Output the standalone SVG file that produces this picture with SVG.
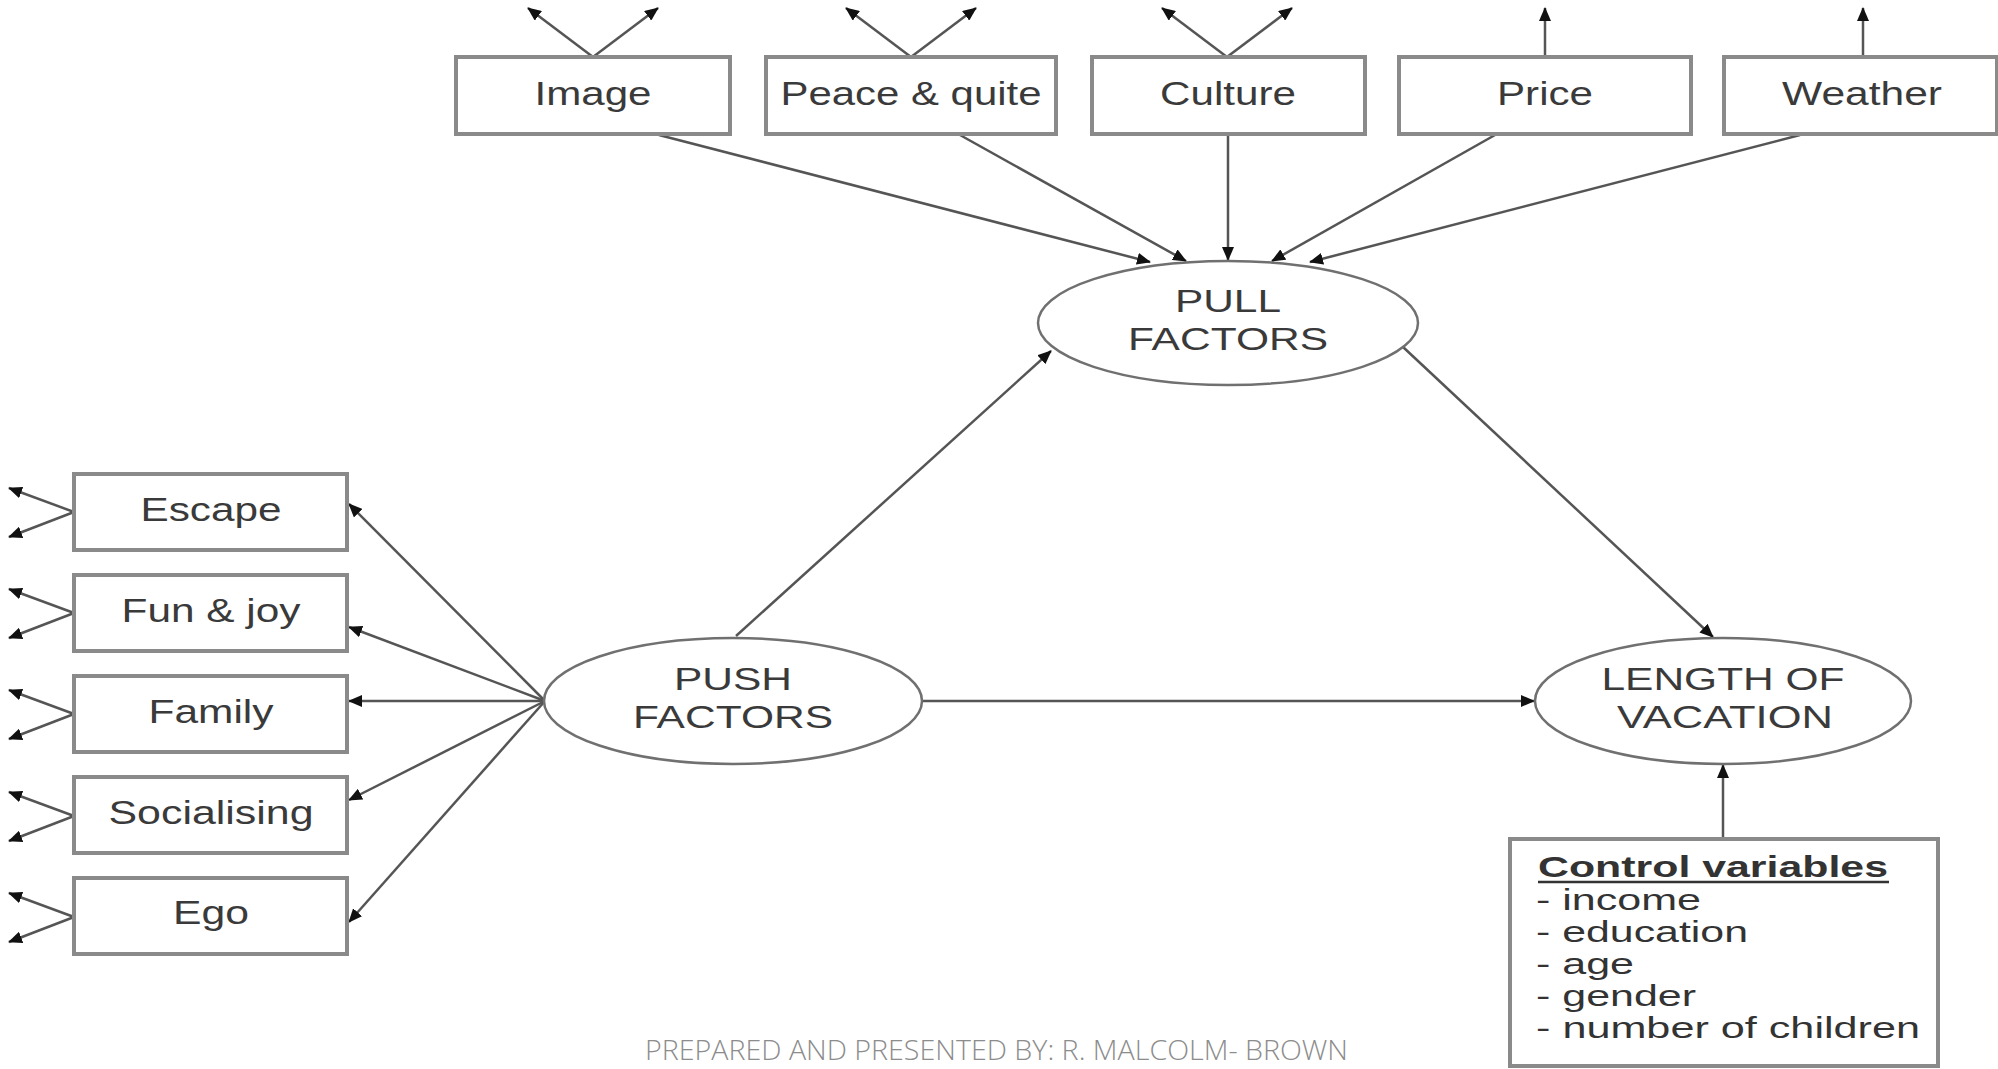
<svg xmlns="http://www.w3.org/2000/svg" width="1998" height="1069" viewBox="0 0 1998 1069">
<defs>
<marker id="ah" markerUnits="userSpaceOnUse" markerWidth="14" markerHeight="12" refX="13" refY="6" orient="auto">
<path d="M0,0 L14,6 L0,12 z" fill="#111"/>
</marker>
<style>
.box{fill:#fff;stroke:#8a8a8a;stroke-width:4}
.ell{fill:#fff;stroke:#707070;stroke-width:2.5}
.lbl{font-family:"Liberation Sans",Arial,sans-serif;font-size:33px;fill:#3a3a3a;text-anchor:middle}
.elbl{font-family:"Liberation Sans",Arial,sans-serif;font-size:31px;fill:#3a3a3a;text-anchor:middle}
.ctl{font-family:"Liberation Sans",Arial,sans-serif;font-size:30px;fill:#333}
.con line{stroke:#555;stroke-width:2.5;marker-end:url(#ah)}
.foot{font-family:"Open Sans","Liberation Sans",sans-serif;font-weight:300;font-size:27px;fill:#8c8c8c}
</style>
</defs>
<rect width="1998" height="1069" fill="#fff"/>

<g id="connectors" class="con">
<line x1="593" y1="57" x2="528" y2="8"/>
<line x1="593" y1="57" x2="658" y2="8"/>
<line x1="911" y1="57" x2="846" y2="8"/>
<line x1="911" y1="57" x2="976" y2="8"/>
<line x1="1227" y1="57" x2="1162" y2="8"/>
<line x1="1227" y1="57" x2="1292" y2="8"/>
<line x1="1545" y1="57" x2="1545" y2="8"/>
<line x1="1863" y1="57" x2="1863" y2="8"/>
<line x1="74" y1="512" x2="9" y2="488"/>
<line x1="74" y1="512" x2="9" y2="537"/>
<line x1="74" y1="613" x2="9" y2="589"/>
<line x1="74" y1="613" x2="9" y2="638"/>
<line x1="74" y1="714" x2="9" y2="690"/>
<line x1="74" y1="714" x2="9" y2="739"/>
<line x1="74" y1="816" x2="9" y2="792"/>
<line x1="74" y1="816" x2="9" y2="841"/>
<line x1="74" y1="917" x2="9" y2="893"/>
<line x1="74" y1="917" x2="9" y2="942"/>
<line x1="659" y1="135" x2="1150" y2="262"/>
<line x1="960" y1="135" x2="1186" y2="261"/>
<line x1="1228" y1="135" x2="1228" y2="260"/>
<line x1="1495" y1="135" x2="1272" y2="261"/>
<line x1="1800" y1="135" x2="1310" y2="262"/>
<line x1="545" y1="701" x2="349" y2="504"/>
<line x1="545" y1="701" x2="349" y2="627"/>
<line x1="545" y1="701" x2="349" y2="701"/>
<line x1="545" y1="701" x2="349" y2="800"/>
<line x1="545" y1="701" x2="349" y2="922"/>
<line x1="736" y1="636" x2="1051" y2="351"/>
<line x1="1403" y1="347" x2="1713" y2="637"/>
<line x1="922" y1="701" x2="1534" y2="701"/>
<line x1="1723" y1="838" x2="1723" y2="765"/>
</g>

<g id="node-image"><rect class="box" x="456" y="57" width="274" height="77"/><text class="lbl" x="593" y="105" textLength="117" lengthAdjust="spacingAndGlyphs">Image</text></g>
<g id="node-peace"><rect class="box" x="766" y="57" width="290" height="77"/><text class="lbl" x="911" y="105" textLength="261" lengthAdjust="spacingAndGlyphs">Peace &amp; quite</text></g>
<g id="node-culture"><rect class="box" x="1092" y="57" width="273" height="77"/><text class="lbl" x="1228" y="105" textLength="136" lengthAdjust="spacingAndGlyphs">Culture</text></g>
<g id="node-price"><rect class="box" x="1399" y="57" width="292" height="77"/><text class="lbl" x="1545" y="105" textLength="96" lengthAdjust="spacingAndGlyphs">Price</text></g>
<g id="node-weather"><rect class="box" x="1724" y="57" width="273" height="77"/><text class="lbl" x="1862" y="105" textLength="160" lengthAdjust="spacingAndGlyphs">Weather</text></g>

<g id="node-escape"><rect class="box" x="74" y="474" width="273" height="76"/><text class="lbl" x="211" y="521" textLength="141" lengthAdjust="spacingAndGlyphs">Escape</text></g>
<g id="node-fun"><rect class="box" x="74" y="575" width="273" height="76"/><text class="lbl" x="211" y="622" textLength="179" lengthAdjust="spacingAndGlyphs">Fun &amp; joy</text></g>
<g id="node-family"><rect class="box" x="74" y="676" width="273" height="76"/><text class="lbl" x="211" y="723" textLength="125" lengthAdjust="spacingAndGlyphs">Family</text></g>
<g id="node-socialising"><rect class="box" x="74" y="777" width="273" height="76"/><text class="lbl" x="211" y="824" textLength="205" lengthAdjust="spacingAndGlyphs">Socialising</text></g>
<g id="node-ego"><rect class="box" x="74" y="878" width="273" height="76"/><text class="lbl" x="211" y="924" textLength="76" lengthAdjust="spacingAndGlyphs">Ego</text></g>

<g id="node-pull"><ellipse class="ell" cx="1228" cy="323" rx="190" ry="62"/>
<text class="elbl" x="1228" y="312" textLength="106" lengthAdjust="spacingAndGlyphs">PULL</text>
<text class="elbl" x="1228" y="350" textLength="200" lengthAdjust="spacingAndGlyphs">FACTORS</text></g>
<g id="node-push"><ellipse class="ell" cx="733" cy="701" rx="189" ry="63"/>
<text class="elbl" x="733" y="690" textLength="118" lengthAdjust="spacingAndGlyphs">PUSH</text>
<text class="elbl" x="733" y="728" textLength="200" lengthAdjust="spacingAndGlyphs">FACTORS</text></g>
<g id="node-length"><ellipse class="ell" cx="1723" cy="701" rx="188" ry="63"/>
<text class="elbl" x="1723" y="690" textLength="243" lengthAdjust="spacingAndGlyphs">LENGTH OF</text>
<text class="elbl" x="1725" y="728" textLength="216" lengthAdjust="spacingAndGlyphs">VACATION</text></g>

<g id="node-control"><rect class="box" x="1510" y="839" width="428" height="227"/>
<text class="ctl" x="1538" y="877" font-weight="bold" textLength="350" lengthAdjust="spacingAndGlyphs">Control variables</text>
<line x1="1538" y1="882" x2="1889" y2="882" stroke="#333" stroke-width="2.5"/>
<text class="ctl" x="1536" y="910" textLength="165" lengthAdjust="spacingAndGlyphs">- income</text>
<text class="ctl" x="1536" y="942" textLength="212" lengthAdjust="spacingAndGlyphs">- education</text>
<text class="ctl" x="1536" y="974" textLength="98" lengthAdjust="spacingAndGlyphs">- age</text>
<text class="ctl" x="1536" y="1006" textLength="160" lengthAdjust="spacingAndGlyphs">- gender</text>
<text class="ctl" x="1536" y="1038" textLength="384" lengthAdjust="spacingAndGlyphs">- number of children</text></g>

<text class="foot" x="645" y="1060" textLength="703" lengthAdjust="spacingAndGlyphs">PREPARED AND PRESENTED BY: R. MALCOLM- BROWN</text>
</svg>
